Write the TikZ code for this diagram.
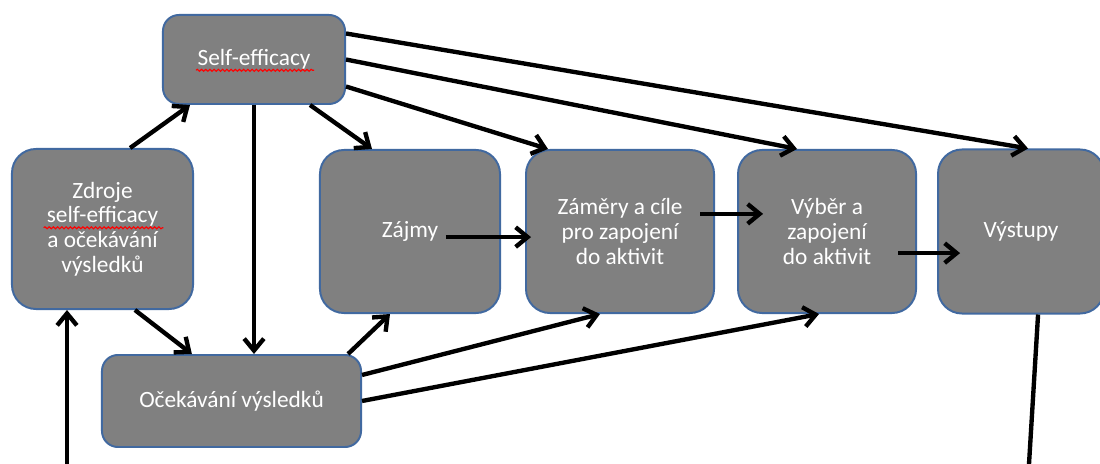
\documentclass[tikz,border=0pt]{standalone}
\usepackage{fontspec}
\setmainfont{Carlito}
\usetikzlibrary{positioning, arrows.meta, decorations.pathmorphing}
\definecolor{boxfill}{RGB}{128,128,128}
\definecolor{boxline}{RGB}{65,105,160}

\begin{document}
\begin{tikzpicture}[x=0.025cm, y=-0.025cm,
    box/.style={draw=boxline, line width=1.4pt, fill=boxfill, rounded corners=0.6cm, align=center, text=white, font=\fontsize{16.6}{17.6}\selectfont, inner sep=0pt},
    arr/.style={line width=3.1pt, -{Straight Barb[length=8.5pt, width=14pt]}},
    spell/.style={red, line width=0.8pt, decorate, decoration={snake, amplitude=0.7pt, segment length=3pt}}]
    \useasboundingbox (0, 0) rectangle (1100, 464);

    \node (zdroje) [box, minimum width=4.525cm, minimum height=4cm] at (102.5, 229) {Zdroje\\self-efficacy\\a očekávání\\výsledků};
    \node (self) [box, rounded corners=0.4cm, minimum width=4.55cm, minimum height=2.225cm] at (254, 59.5) {Self-efficacy};
    \node (oce) [box, rounded corners=0.4cm, minimum width=6.475cm, minimum height=2.3cm] at (231.5, 401) {Očekávání výsledků};
    \node (zajmy) [box, minimum width=4.5cm, minimum height=4.075cm] at (410, 231.5) {Zájmy};
    \node (zamery) [box, minimum width=4.7cm, minimum height=4.075cm, right=0.6cm of zajmy] {Záměry a cíle\\pro zapojení\\do aktivit};
    \node (vyber) [box, minimum width=4.45cm, minimum height=4.075cm, right=0.55cm of zamery] {Výběr a\\zapojení\\do aktivit};
    \node (vystupy) [box, minimum width=4.15cm, minimum height=4.1cm, right=0.5cm of vyber] {Výstupy};

    \draw [spell] ([xshift=-1.45cm, yshift=-0.27cm]self.center) -- ([xshift=1.5cm, yshift=-0.27cm]self.center);
    \draw [spell] ([xshift=-1.47cm, yshift=0.03cm]zdroje.center) -- ([xshift=1.52cm, yshift=0.03cm]zdroje.center);

    \draw [arr] ([xshift=0.69cm]zdroje.north) -- ([xshift=-1.6cm]self.south);
    \draw [arr] ([xshift=0.81cm]zdroje.south) -- ([xshift=-0.99cm]oce.north);
    \draw [arr] (self.south) -- (self.south |- oce.north);
    \draw [arr] ([xshift=1.4cm]self.south) -- ([xshift=-0.95cm]zajmy.north);
    \draw [arr] ([yshift=-0.675cm]self.east) -- ([xshift=-1.8cm]zamery.north);
    \draw [arr] (self.east) -- ([xshift=-0.75cm]vyber.north);
    \draw [arr] ([yshift=0.65cm]self.east) -- ([xshift=0.175cm]vystupy.north);

    \draw [arr] ([xshift=-1.375cm, yshift=-0.14cm]zajmy.east) -- ([xshift=0.15cm, yshift=-0.14cm]zamery.west);
    \draw [arr] ([xshift=-0.375cm, yshift=0.44cm]zamery.east) -- ([xshift=0.65cm, yshift=0.44cm]vyber.west);
    \draw [arr] ([xshift=-0.475cm, yshift=-0.54cm]vyber.east) -- ([xshift=0.575cm, yshift=-0.54cm]vystupy.west);

    \draw [arr] ([xshift=-0.35cm]oce.north east) -- ([xshift=-0.5cm]zajmy.south);
    \draw [arr] ([yshift=0.65cm]oce.east) -- ([xshift=-0.5cm]zamery.south);
    \draw [arr] (oce.east) -- ([xshift=-0.2cm]vyber.south);

    \coordinate (outR) at (1029, 464);
    \coordinate (outL) at (67, 464);
    \draw [line width=3.1pt] ([xshift=0.425cm]vystupy.south) -- (outR);
    \draw [arr] (outL) -- (outL |- zdroje.south);
\end{tikzpicture}
\end{document}
